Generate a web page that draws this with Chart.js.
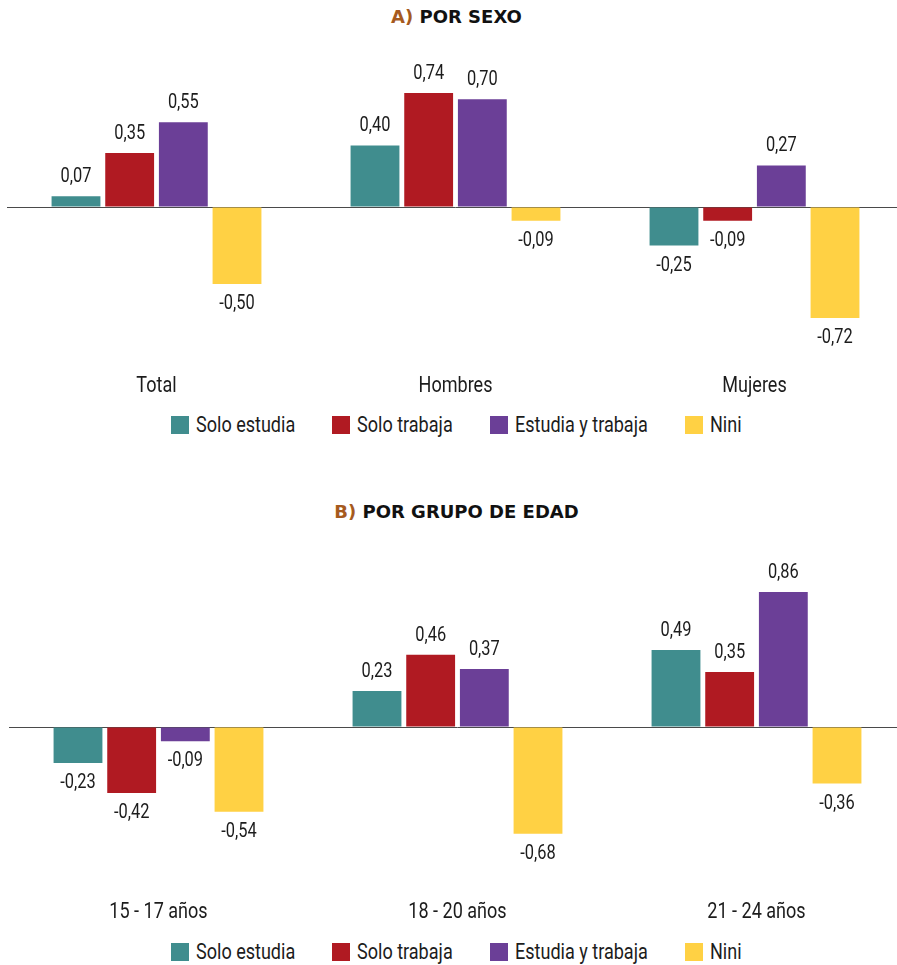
<!DOCTYPE html>
<html lang="es">
<head>
<meta charset="utf-8">
<script src="https://cdn.jsdelivr.net/npm/chart.js@4.4.1/dist/chart.umd.min.js"></script>
<style>
  html, body { margin: 0; padding: 0; background: #fff; overflow: hidden; }
  body { width: 897px; height: 965px; position: relative; }
  .titulo {
    position: absolute; left: 0; width: 897px; padding-left: 16px; box-sizing: border-box;
    text-align: center; font-family: "DejaVu Sans", sans-serif; font-weight: 700;
    font-size: 18px; color: #111; line-height: 20px;
  }
  .titulo span { color: #A65A1E; }
  .wrap { position: absolute; left: 0; }
  .leyenda {
    position: absolute; left: 0; width: 897px; padding-left: 16px; box-sizing: border-box;
    display: flex; justify-content: center; gap: 37px;
    font-family: Roboto, sans-serif; font-size: 22px; color: #1c1c1c; line-height: 24px;
  }
  .leyenda > div { display: flex; align-items: center; }
  .leyenda i { display: inline-block; width: 18px; height: 18px; margin-right: 7px; }
  .leyenda .t { display: inline-block; white-space: nowrap; overflow: visible; }
  .leyenda .in { display: inline-block; white-space: nowrap; transform: scaleX(0.82); transform-origin: left center; }
</style>
</head>
<body>

<div class="titulo" style="top:7px"><span>A)</span> POR SEXO</div>
<div class="wrap" style="top:40px;width:904px;height:361px"><canvas id="chart-a"></canvas></div>
<div class="leyenda" id="leyenda-a" style="top:413px"></div>

<div class="titulo" style="top:502px"><span>B)</span> POR GRUPO DE EDAD</div>
<div class="wrap" style="top:540px;width:906px;height:384px"><canvas id="chart-b"></canvas></div>
<div class="leyenda" id="leyenda-b" style="top:940px"></div>

<script>
// --- datos ---
const SERIES = ['Solo estudia', 'Solo trabaja', 'Estudia y trabaja', 'Nini'];
const COLORES = ['#408D8E', '#B01A22', '#6B3F97', '#FFD144'];

const CAT_SEXO = ['Total', 'Hombres', 'Mujeres'];
const SEXO_SOLO_ESTUDIA = [0.07, 0.40, -0.25];
const SEXO_SOLO_TRABAJA = [0.35, 0.74, -0.09];
const SEXO_ESTUDIA_TRABAJA = [0.55, 0.70, 0.27];
const SEXO_NINI = [-0.50, -0.09, -0.72];

const CAT_EDAD = ['15 - 17 años', '18 - 20 años', '21 - 24 años'];
const EDAD_SOLO_ESTUDIA = [-0.23, 0.23, 0.49];
const EDAD_SOLO_TRABAJA = [-0.42, 0.46, 0.35];
const EDAD_ESTUDIA_TRABAJA = [-0.09, 0.37, 0.86];
const EDAD_NINI = [-0.54, -0.68, -0.36];

const FUENTE = 'Roboto, sans-serif';
const ANGOSTO = 0.82; // no hay fuente condensada instalada: se estrecha el texto a mano

function textoAngosto(ctx, txt, x, y) {
    ctx.save();
    ctx.translate(x, y);
    ctx.scale(ANGOSTO, 1);
    ctx.fillText(txt, 0, 0);
    ctx.restore();
}

// etiquetas de valor y nombres de categoría (texto estrechado)
const textos = {
    id: 'textos',
    afterDatasetsDraw(chart, args, opts) {
        const ctx = chart.ctx;
        ctx.save();
        ctx.fillStyle = '#1c1c1c';
        ctx.textAlign = 'center';
        ctx.textBaseline = 'middle';
        ctx.font = '20px ' + FUENTE;
        chart.data.datasets.forEach((ds, i) => {
            chart.getDatasetMeta(i).data.forEach((bar, j) => {
                const v = ds.data[j];
                const txt = v.toFixed(2).replace('.', ',');
                textoAngosto(ctx, txt, bar.x, v >= 0 ? bar.y - 19 : bar.y + 20);
            });
        });
        // nombres del eje x, en la posición que da la escala
        const x = chart.scales.x;
        ctx.font = '22px ' + FUENTE;
        x.ticks.forEach((t, i) => {
            textoAngosto(ctx, x.getLabelForValue(t.value), x.getPixelForTick(i), chart.chartArea.bottom + opts.sepEje);
        });
        ctx.restore();
    }
};

function crearGrafico(id, categorias, valores, padIzq, padTop, sepEje) {
    return new Chart(document.getElementById(id), {
        type: 'bar',
        data: {
            labels: categorias,
            datasets: SERIES.map((s, i) => ({
                label: s,
                data: valores[i],
                backgroundColor: COLORES[i],
                borderWidth: 0,
                categoryPercentage: 0.718,
                barPercentage: 0.91
            }))
        },
        options: {
            responsive: true,
            maintainAspectRatio: false,
            animation: false,
            layout: { padding: { left: padIzq, top: padTop, right: 0, bottom: 40 } },
            scales: {
                x: {
                    grid: { display: false, drawTicks: false },
                    border: { display: false },
                    ticks: { display: false }
                },
                y: {
                    min: -1, max: 1,
                    border: { display: false },
                    ticks: { display: false },
                    grid: {
                        drawTicks: false,
                        color: c => c.tick.value === 0 ? '#4a4a4a' : 'rgba(0,0,0,0)',
                        lineWidth: 1
                    }
                }
            },
            plugins: {
                legend: { display: false },
                tooltip: { enabled: false },
                textos: { sepEje: sepEje }
            }
        },
        plugins: [textos]
    });
}

function crearLeyenda(id) {
    const cont = document.getElementById(id);
    SERIES.forEach((s, i) => {
        const d = document.createElement('div');
        d.innerHTML = `<i style="background:${COLORES[i]}"></i><span class="t"><span class="in">${s}</span></span>`;
        cont.appendChild(d);
        const inner = d.querySelector('.in');
        d.querySelector('.t').style.width = (inner.offsetWidth * ANGOSTO) + 'px';
    });
}

crearGrafico('chart-a', CAT_SEXO,
    [SEXO_SOLO_ESTUDIA, SEXO_SOLO_TRABAJA, SEXO_ESTUDIA_TRABAJA, SEXO_NINI], 7, 13, 25);
crearGrafico('chart-b', CAT_EDAD,
    [EDAD_SOLO_ESTUDIA, EDAD_SOLO_TRABAJA, EDAD_ESTUDIA_TRABAJA, EDAD_NINI], 9, 30, 28);
crearLeyenda('leyenda-a');
crearLeyenda('leyenda-b');
</script>
</body>
</html>
